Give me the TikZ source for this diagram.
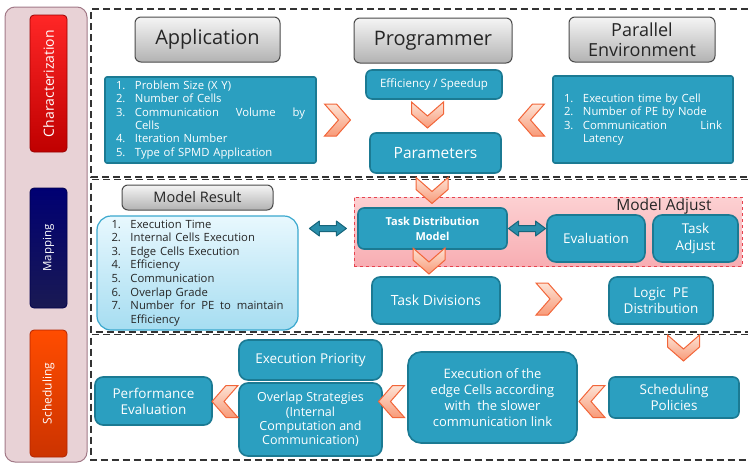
\documentclass[tikz,border=0pt]{standalone}
\usepackage{fontspec}
\setmainfont{Open Sans}
\usetikzlibrary{calc}

\definecolor{tealF}{HTML}{2B9FC0}
\definecolor{tealD}{HTML}{1B7A93}
\definecolor{arrF}{HTML}{2A8EAA}
\definecolor{arrD}{HTML}{17667C}
\definecolor{grayD}{HTML}{4A4A4A}
\definecolor{orL}{HTML}{FDE2D4}
\definecolor{orM}{HTML}{F89A78}
\definecolor{orD}{HTML}{F2663A}
\definecolor{panelF}{HTML}{E8D2D6}
\definecolor{panelD}{HTML}{A27A88}
\definecolor{adjT}{HTML}{FCD0D2}
\definecolor{adjB}{HTML}{F8AEB3}
\definecolor{adjD}{HTML}{E6434F}
\definecolor{lbT}{HTML}{E8F8FE}
\definecolor{lbB}{HTML}{A6DDF1}
\definecolor{lbD}{HTML}{3AA8CE}

\newcommand\setfs[2]{\fontsize{#1}{#2}\selectfont}
\newcommand\itm[2]{\makebox[19pt][l]{#1}#2}
% a list line spread over the full item width
\newcommand\spread[2]{\hbox to #1{#2}}

\tikzset{
  tbox/.style={draw=tealD, fill=tealF, line width=1.6pt, rounded corners=6pt,
    text=white, align=center, inner sep=1pt},
  gbox/.style={draw=grayD, top color=black!4, bottom color=black!30,
    line width=1pt, rounded corners=6pt, text=black!85, align=center, inner sep=1pt},
  listbox/.style={draw=tealD, fill=tealF, line width=1.6pt, rounded corners=2pt,
    text=white, align=left, inner sep=0pt, font=\setfs{11.3}{13.3}},
  barbox/.style={rounded corners=4pt, line width=0.8pt, text=white, inner sep=0pt},
  sep/.style={draw=black!80, line width=1.6pt, dash pattern=on 7pt off 4pt},
  chevstyle/.style={draw=orD, line width=1pt, top color=orL, bottom color=orM},
  chevR/.pic={\path[chevstyle] (-13,-16)--(-1,-16)--(13,0)--(-1,16)--(-13,16)--(1,0)--cycle;},
  chevL/.pic={\path[chevstyle] (13,-16)--(1,-16)--(-13,0)--(1,16)--(13,16)--(-1,0)--cycle;},
  chevD/.pic={\path[chevstyle] (-16,-13)--(-16,-1)--(0,13)--(16,-1)--(16,-13)--(0,1)--cycle;},
  dblarrow/.style={draw=arrD, fill=arrF, line width=1pt, line join=round},
}

\begin{document}
\begin{tikzpicture}[x=1pt, y=-1pt]
\useasboundingbox (0,0) rectangle (748,464);

% ---- phase column on the left
\draw[panelD, fill=panelF, line width=1pt, rounded corners=10pt] (5,7) rectangle (87,462);
\node[barbox, draw=red!60!black, top color=red!85!white, bottom color=red!75!black,
  minimum width=37pt, minimum height=137pt] (char) at (48.5,83.5) {};
\node[rotate=90, text=white, font=\setfs{14}{16}] at (char.center) {Characterization};
\node[barbox, draw=blue!30!black, top color=blue!45!black, bottom color=blue!25!black!90,
  minimum width=37pt, minimum height=120pt] (mapp) at (48.5,248) {};
\node[rotate=90, text=white, font=\setfs{11.5}{13}] at (mapp.center) {Mapping};
\node[barbox, draw=orange!40!red!70!black, top color=orange!60!red, bottom color=orange!50!red!80!black,
  minimum width=37pt, minimum height=127pt] (schd) at (48.5,393.5) {};
\node[rotate=90, text=white, font=\setfs{12}{13}] at (schd.center) {Scheduling};

% ---- dashed frames of the three phases
\draw[sep] (748,9) -- (91,9) -- (91,177) -- (748,177);
\draw[sep] (748,179.5) -- (91,179.5) -- (91,332) -- (748,332);
\draw[sep] (748,334.5) -- (91,334.5) -- (91,460) -- (748,460);

% ---- characterization
\node[gbox, minimum width=145pt, minimum height=45pt, font=\setfs{20}{22}] (app) at (207.5,39.5) {Application};
\node[gbox, minimum width=158pt, minimum height=45pt, font=\setfs{20}{22}] (prog) at (433,40.5) {Programmer};
\node[gbox, minimum width=146pt, minimum height=45pt, font=\setfs{18}{20.5}] (penv) at (642,39.5) {Parallel\\Environment};

\node[listbox, minimum width=211pt, minimum height=86pt, text width=189pt] (appl) at (210.5,120)
  {\itm{1.}{Problem Size (X Y)}\\
   \itm{2.}{Number of Cells}\\
   \itm{3.}{\spread{170pt}{Communication\hfill Volume\hfill by}}\\
   \itm{}{Cells}\\
   \itm{4.}{Iteration Number}\\
   \itm{5.}{Type of SPMD Application}};

\node[tbox, minimum width=136pt, minimum height=29pt, font=\setfs{11.5}{13}] (eff) at (434,84.5) {Efficiency / Speedup};
\node[tbox, minimum width=131pt, minimum height=40pt, font=\setfs{15.5}{17}] (par) at (435.5,153) {Parameters};

\node[listbox, minimum width=180pt, minimum height=87pt, text width=158pt] (pel) at (643,119.5)
  {\itm{1.}{Execution time by Cell}\\
   \itm{2.}{Number of PE by Node}\\
   \itm{3.}{\spread{139pt}{Communication\hfill Link}}\\
   \itm{}{Latency}};

\pic at (337.5,120) {chevR};
\pic at (427.5,115) {chevD};
\pic at (531.5,120) {chevL};

% ---- mapping
\node[gbox, minimum width=151pt, minimum height=25pt, font=\setfs{14.5}{16}] (mres) at (197.5,197.5) {Model Result};
\node[draw=lbD, top color=lbT, bottom color=lbB, line width=1.2pt, rounded corners=14pt,
  minimum width=201pt, minimum height=114pt, text width=172pt, align=left, inner sep=0pt,
  text=black!85, font=\setfs{11.3}{13.6}] (mresl) at (197.5,273)
  {\itm{1.}{Execution Time}\\
   \itm{2.}{Internal Cells Execution}\\
   \itm{3.}{Edge Cells Execution}\\
   \itm{4.}{Efficiency}\\
   \itm{5.}{Communication}\\
   \itm{6.}{Overlap Grade}\\
   \itm{7.}{\spread{153pt}{Number\hfill for\hfill PE\hfill to\hfill maintain}}\\
   \itm{}{Efficiency}};

\node[draw=adjD, dashed, line width=1pt, top color=adjT, bottom color=adjB,
  minimum width=388pt, minimum height=69pt, inner sep=0pt] (madj) at (548,231.5) {};
\node[anchor=east, text=black!85, font=\setfs{15.5}{17}] (madjt) at (715,206) {Model Adjust};

\node[tbox, minimum width=149pt, minimum height=41pt, font=\bfseries\setfs{11}{15}] (tdm) at (432.5,228.5) {Task Distribution\\Model};
\node[tbox, rounded corners=9pt, minimum width=98pt, minimum height=47pt, font=\setfs{13.5}{16}] (eval) at (596,238.5) {Evaluation};
\node[tbox, rounded corners=9pt, minimum width=85pt, minimum height=47pt, font=\setfs{13.5}{17}] (tadj) at (695.5,238.5) {Task\\Adjust};
\node[tbox, rounded corners=8pt, minimum width=128pt, minimum height=47pt, font=\setfs{14}{16}] (tdiv) at (436,300.5) {Task Divisions};
\node[tbox, rounded corners=8pt, minimum width=104pt, minimum height=47pt, font=\setfs{13.5}{16}] (lpe) at (661,300.5) {Logic\ \ PE\\Distribution};

% two-way links
\coordinate (d1) at ($(mresl.east |- tdm.west)!0.5!(tdm.west)$);
\path[dblarrow] ($(d1)+(-18.5,0)$) -- ++(10,-7.5) -- ++(0,4.5) -- ++(17,0) -- ++(0,-4.5)
  -- ++(10,7.5) -- ++(-10,7.5) -- ++(0,-4.5) -- ++(-17,0) -- ++(0,4.5) -- cycle;
\coordinate (d2) at ($(tdm.east)!0.5!(eval.west |- tdm.east)$);
\path[dblarrow] ($(d2)+(-18.5,0)$) -- ++(10,-7.5) -- ++(0,4.5) -- ++(17,0) -- ++(0,-4.5)
  -- ++(10,7.5) -- ++(-10,7.5) -- ++(0,-4.5) -- ++(-17,0) -- ++(0,4.5) -- cycle;

\pic at (432,190.5) {chevD};
\pic at (429,261) {chevD};
\pic at (549,299) {chevR};

% ---- scheduling
\node[tbox, minimum width=130pt, minimum height=41pt, font=\setfs{13.5}{16}] (sched) at (674,397.5) {Scheduling\\Policies};
\node[tbox, rounded corners=13pt, minimum width=169pt, minimum height=91pt, font=\setfs{13}{15.8}] (exec) at (492.5,397.5)
  {Execution of the\\edge Cells according\\with\ \ the slower\\communication link};
\node[tbox, rounded corners=9pt, minimum width=143pt, minimum height=40pt, font=\setfs{13.5}{16}] (eprio) at (310.5,360) {Execution Priority};
\node[tbox, rounded corners=9pt, minimum width=143pt, minimum height=73pt, font=\setfs{12.5}{14.3}] (ovl) at (310.5,419.5)
  {Overlap Strategies\\(Internal\\Computation and\\Communication)};
\node[tbox, rounded corners=8pt, minimum width=117pt, minimum height=48pt, font=\setfs{13.5}{16}] (perf) at (153.5,401) {Performance\\Evaluation};

\pic at (683.5,348) {chevD};
\pic at (592,401.5) {chevL};
\pic at (391.5,401.5) {chevL};
\pic at (225,401.5) {chevL};
\end{tikzpicture}
\end{document}
